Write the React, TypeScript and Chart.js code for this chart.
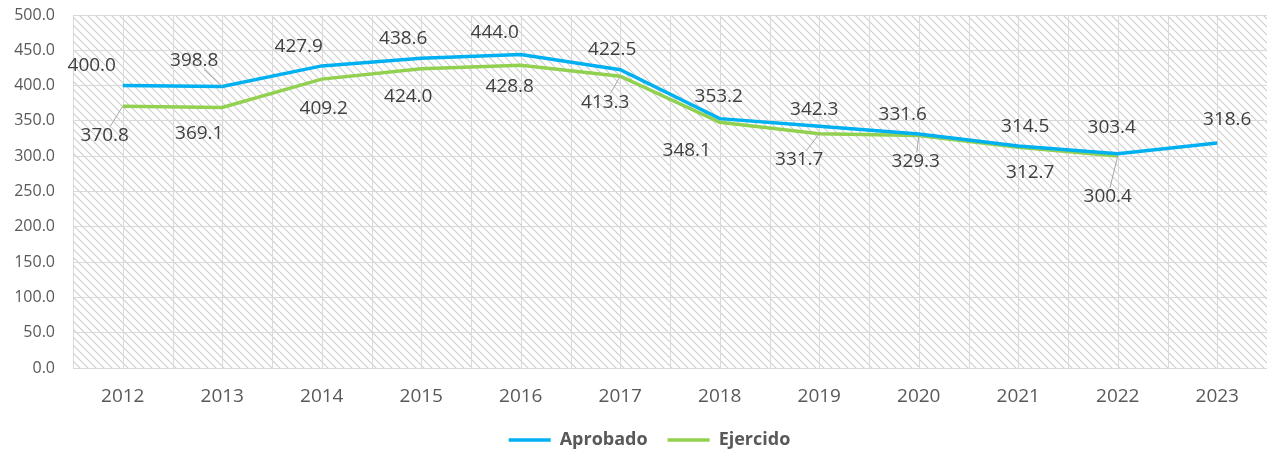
import React, { useEffect, useRef } from 'react';
import { Chart, registerables } from 'chart.js';

Chart.register(...registerables);

// ---- data ----
const years = ['2012', '2013', '2014', '2015', '2016', '2017', '2018', '2019', '2020', '2021', '2022', '2023'];
const aprobado: (number | null)[] = [400.0, 398.8, 427.9, 438.6, 444.0, 422.5, 353.2, 342.3, 331.6, 314.5, 303.4, 318.6];
const ejercido: (number | null)[] = [370.8, 369.1, 409.2, 424.0, 428.8, 413.3, 348.1, 331.7, 329.3, 312.7, 300.4, null];
const yMin = 0;
const yMax = 500;
const yStep = 50;

// ---- label placement (pixel offsets from point, leader line flag) ----
const aprobadoLabelDx = [-31, -28, -23, -18, -26, -8, -1, -5, -16, 7, -6, 10];
const aprobadoLabelDy = [-20, -26, -19, -20, -22, -20, -22, -17, -19, -19, -26, -23];
const aprobadoLeader = [false, true, false, false, false, false, false, false, false, false, false, false];
const ejercidoLabelDx = [-18, -23, 2, -13, -11, -15, -33, -20, -3, 12, -10, 0];
const ejercidoLabelDy = [29, 26, 29, 28, 21, 26, 28, 26, 26, 25, 41, 0];
const ejercidoLeader = [true, false, false, false, false, true, false, true, true, false, true, false];

const FONT = "'Open Sans', 'DejaVu Sans', sans-serif";

const backgroundPlugin = {
  id: 'hatchBackground',
  beforeDraw(chart: any) {
    const { ctx, chartArea } = chart;
    if (!chartArea) return;
    const tile = document.createElement('canvas');
    const s = 8;
    tile.width = s;
    tile.height = s;
    const t = tile.getContext('2d')!;
    t.strokeStyle = '#cdcdcd';
    t.lineWidth = 1.1;
    t.beginPath();
    t.moveTo(0, 0); t.lineTo(s, s);
    t.moveTo(-1, s - 1); t.lineTo(1, s + 1);
    t.moveTo(s - 1, -1); t.lineTo(s + 1, 1);
    t.stroke();
    const pat = ctx.createPattern(tile, 'repeat');
    ctx.save();
    ctx.fillStyle = '#ffffff';
    ctx.fillRect(chartArea.left, chartArea.top, chartArea.right - chartArea.left, chartArea.bottom - chartArea.top);
    ctx.fillStyle = pat;
    ctx.fillRect(chartArea.left, chartArea.top, chartArea.right - chartArea.left, chartArea.bottom - chartArea.top);
    ctx.restore();
  },
  beforeDatasetsDraw(chart: any) {
    const { ctx, chartArea } = chart;
    const n = years.length;
    const w = (chartArea.right - chartArea.left) / n;
    ctx.save();
    ctx.strokeStyle = '#d9d9d9';
    ctx.lineWidth = 1;
    for (let k = 0; k <= 2 * n; k++) {
      const x = Math.round(chartArea.left + (k * w) / 2) + 0.5;
      ctx.beginPath();
      ctx.moveTo(x, chartArea.top);
      ctx.lineTo(x, chartArea.bottom);
      ctx.stroke();
    }
    ctx.restore();
  },
  afterLayout(chart: any) {
    if (chart.legend) {
      chart.legend.left += 16;
      chart.legend.right += 16;
    }
  },
};

const labelPlugin = {
  id: 'valueLabels',
  afterDatasetsDraw(chart: any) {
    const { ctx } = chart;
    const cfg = [
      { data: aprobado, dx: aprobadoLabelDx, dy: aprobadoLabelDy, leader: aprobadoLeader },
      { data: ejercido, dx: ejercidoLabelDx, dy: ejercidoLabelDy, leader: ejercidoLeader },
    ];
    ctx.save();
    ctx.font = `19px ${FONT}`;
    ctx.textAlign = 'center';
    ctx.textBaseline = 'middle';
    cfg.forEach((c, di) => {
      const meta = chart.getDatasetMeta(di);
      c.data.forEach((v, j) => {
        if (v === null || v === undefined) return;
        const el = meta.data[j];
        if (!el) return;
        const px = el.x;
        const py = el.y;
        const cx = px + c.dx[j];
        const cy = py + c.dy[j];
        const text = v.toFixed(1);
        if (c.leader[j]) {
          const hw = ctx.measureText(text).width / 2 + 2;
          const hh = 9;
          const ddx = cx - px;
          const ddy = cy - py;
          let tx = 0;
          let ty = 0;
          if (ddx !== 0) tx = (Math.abs(ddx) - hw) / Math.abs(ddx);
          if (ddy !== 0) ty = (Math.abs(ddy) - hh) / Math.abs(ddy);
          const tt = Math.max(0, Math.max(tx, ty));
          ctx.strokeStyle = '#a6a6a6';
          ctx.lineWidth = 1;
          ctx.beginPath();
          ctx.moveTo(px, py);
          ctx.lineTo(px + ddx * tt, py + ddy * tt);
          ctx.stroke();
        }
        ctx.fillStyle = '#404040';
        ctx.fillText(text, cx, cy);
      });
    });
    ctx.restore();
  },
};

export default function App() {
  const ref = useRef<HTMLCanvasElement | null>(null);
  useEffect(() => {
    if (!ref.current) return;
    const chart = new Chart(ref.current, {
      type: 'line',
      data: {
        labels: years,
        datasets: [
          {
            label: 'Aprobado',
            data: aprobado,
            borderColor: '#00b0f0',
            backgroundColor: '#00b0f0',
            borderWidth: 3.5,
            pointRadius: 0,
            tension: 0,
          },
          {
            label: 'Ejercido',
            data: ejercido,
            borderColor: '#92d050',
            backgroundColor: '#92d050',
            borderWidth: 3.5,
            pointRadius: 0,
            tension: 0,
          },
        ],
      },
      options: {
        animation: false,
        responsive: false,
        maintainAspectRatio: false,
        layout: { padding: { top: 15, left: 0, right: 0, bottom: -7 } },
        plugins: {
          legend: {
            position: 'bottom',
            labels: {
              usePointStyle: true,
              pointStyle: 'line',
              pointStyleWidth: 42,
              padding: 20,
              color: '#595959',
              font: { family: FONT, size: 18, weight: 'bold' },
            },
          },
          tooltip: { enabled: false },
        },
        scales: {
          x: {
            offset: true,
            grid: { display: false },
            border: { display: false },
            ticks: { padding: 9, color: '#595959', font: { family: FONT, size: 19 }, maxRotation: 0 },
            afterFit: (s: any) => { s.height = 43; },
          },
          y: {
            min: yMin,
            max: yMax,
            ticks: {
              stepSize: yStep,
              padding: 18,
              color: '#595959',
              font: { family: FONT, size: 16 },
              callback: (v: any) => Number(v).toFixed(1),
            },
            grid: { color: '#d9d9d9', drawTicks: false },
            border: { display: false },
            afterFit: (s: any) => {
              s.width = 73;
              s.paddingTop = 0;
              s.paddingBottom = 0;
            },
          },
        },
      },
      plugins: [backgroundPlugin, labelPlugin],
    } as any);
    return () => chart.destroy();
  }, []);
  return (
    <div style={{ position: 'absolute', left: 0, top: 0, width: 1267, height: 452, background: '#ffffff' }}>
      <canvas ref={ref} width={1267} height={452} style={{ display: 'block' }} />
    </div>
  );
}
